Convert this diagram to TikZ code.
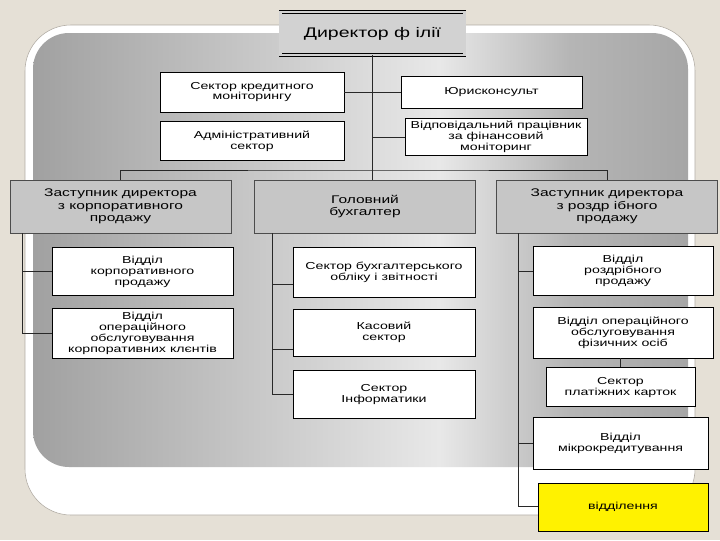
\documentclass[tikz,border=0pt]{standalone}
\usepackage{fontspec}
\setmainfont{Liberation Sans}[FakeStretch=1.4]
\usetikzlibrary{positioning}
\definecolor{beige}{RGB}{229,224,214}
\definecolor{rim}{RGB}{176,171,163}
\definecolor{headgray}{RGB}{198,198,198}
\definecolor{chiefgray}{RGB}{210,210,210}
\definecolor{linegray}{RGB}{40,40,40}
\pgfdeclarehorizontalshading{panelshade}{100bp}{color(0bp)=(black!37); color(25bp)=(black!37); color(56bp)=(black!9); color(66bp)=(black!29); color(75bp)=(black!35); color(100bp)=(black!35)}

\begin{document}
\begin{tikzpicture}[x=0.025cm, y=-0.025cm,
  unit/.style={draw, rectangle, fill=white, inner sep=0pt, align=center, font=\fontsize{7.2}{7.8}\selectfont},
  head/.style={draw=black!70, rectangle, fill=headgray, inner sep=0pt, align=center, minimum width=5.525cm, minimum height=1.325cm, font=\fontsize{7.9}{8.8}\selectfont},
  chief/.style={draw=black, line width=0.55pt, double=chiefgray, double distance=1.6pt, fill=chiefgray, inner sep=0pt, minimum width=4.6cm, minimum height=1.06cm, font=\fontsize{9.9}{11}\selectfont},
  wire/.style={draw=linegray, line width=0.6pt}]
\useasboundingbox (0,0) rectangle (720,540);
\fill[beige] (0,0) rectangle (720,540);
\draw[rim, fill=white, rounded corners=1.15cm] (25,25) rectangle (695,515);
\shade[shading=panelshade, rounded corners=0.9cm] (33,33) rectangle (688,467);

\node (dir) [chief] at (372.5,33.5) {Директор ф ілії};
\node (kred) [unit, minimum width=4.6cm, minimum height=1cm] at (252,92) {Сектор кредитного\\моніторингу};
\node (admin) [unit, minimum width=4.6cm, minimum height=0.975cm, below=0.225cm of kred] {Адміністративний\\сектор};
\node (jur) [unit, minimum width=4.525cm, minimum height=0.8cm] at (491.5,92) {Юрисконсульт};
\node (fin) [unit, minimum width=4.55cm, minimum height=0.925cm, below=0.25cm of jur, xshift=0.1125cm] {Відповідальний працівник\\за фінансовий\\моніторинг};

\node (zkorp) [head] at (120.5,206.5) {Заступник директора\\з корпоративного\\продажу};
\node (buh) [head] at (365,206.5) {Головний\\бухгалтер};
\node (zrozd) [head] at (607,206.5) {Заступник директора\\з роздр ібного\\продажу};

\node (vkorp) [unit, minimum width=4.525cm, minimum height=1.2cm, below=0.35cm of zkorp, xshift=0.55cm] {Відділ\\корпоративного\\продажу};
\node (vop) [unit, minimum width=4.525cm, minimum height=1.25cm, below=0.3cm of vkorp] {Відділ\\операційного\\обслуговування\\корпоративних клєнтів};

\node (sbuh) [unit, minimum width=4.55cm, minimum height=1.25cm, below=0.35cm of buh, xshift=0.475cm] {Сектор бухгалтерського\\обліку і звітності};
\node (kas) [unit, minimum width=4.55cm, minimum height=1.175cm, below=0.275cm of sbuh] {Касовий\\сектор};
\node (inf) [unit, minimum width=4.55cm, minimum height=1.2cm, below=0.35cm of kas] {Сектор\\Інформатики};

\node (vrozd) [unit, minimum width=4.5cm, minimum height=1.225cm, below=0.325cm of zrozd, xshift=0.4cm] {Відділ\\роздрібного\\продажу};
\node (vfiz) [unit, minimum width=4.5cm, minimum height=1.275cm, below=0.275cm of vrozd] {Відділ операційного\\обслуговування\\фізичних осіб};
\node (plat) [unit, minimum width=3.725cm, minimum height=0.975cm, below=0.225cm of vfiz, xshift=-0.0625cm] {Сектор\\платіжних карток};
\node (mikro) [unit, minimum width=4.375cm, minimum height=1.3cm, below=0.25cm of plat] {Відділ\\мікрокредитування};
\node (viddil) [unit, fill=yellow, minimum width=4.25cm, minimum height=1.2cm, below=0.325cm of mikro, xshift=0.0625cm] {відділення};

\coordinate (bus) at (372.5,170);
\coordinate (lspine) at (22,233);
\coordinate (mspine) at (272,233);
\coordinate (rspine) at (518,233);

\draw[wire] (dir.south) -- (dir.south |- buh.north);
\draw[wire] (kred.east) -- (jur.west);
\draw[wire] (fin.west) -- (fin.west -| dir.south);
\draw[wire] (zkorp.north) |- (bus) -| (zrozd.north);
\draw[wire] (lspine) |- (vkorp.west);
\draw[wire] (lspine) |- (vop.west);
\draw[wire] (mspine) |- ([yshift=-0.3cm]sbuh.west);
\draw[wire] (mspine) |- ([yshift=-0.41cm]kas.west);
\draw[wire] (mspine) |- (inf.west);
\draw[wire] (rspine) |- (vrozd.west);
\draw[wire] (rspine) |- (mikro.west);
\draw[wire] (rspine) |- (viddil.west);
\draw[wire] (plat.north |- vfiz.south) -- (plat.north);
\end{tikzpicture}
\end{document}
